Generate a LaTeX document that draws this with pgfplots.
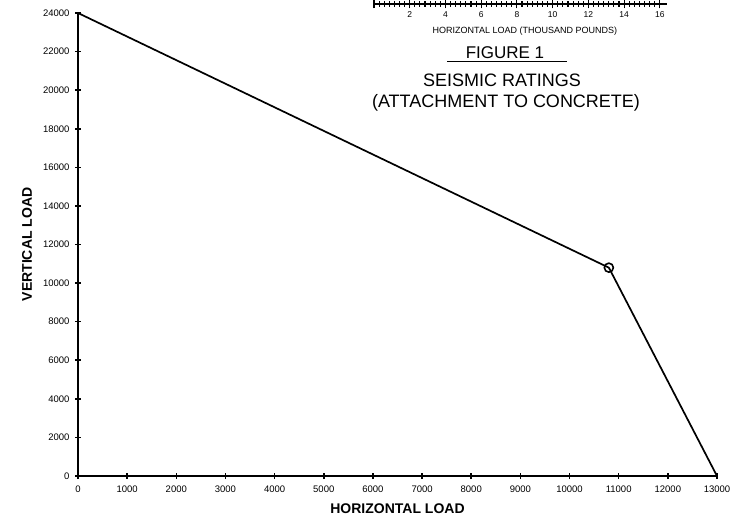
\documentclass[border=0pt]{standalone}
\usepackage{fontspec}
\setmainfont{Liberation Sans}
\usepackage{pgfplots}
\pgfplotsset{compat=1.18}
\begin{document}
\begin{tikzpicture}
\useasboundingbox (0,0) rectangle (734pt,517pt);
% main chart
\begin{axis}[
  at={(78pt,41pt)}, anchor=south west,
  scale only axis, width=639pt, height=463pt,
  xmin=0, xmax=13000, ymin=0, ymax=24000,
  axis lines=left, axis line style={-, line width=1.8pt},
  xtick distance=1000, ytick distance=2000,
  scaled ticks=false,
  tick align=center, major tick length=6pt,
  tick style={line width=1.6pt, black},
  ticklabel style={font=\fontsize{9.5}{10}\selectfont},
  xticklabel style={yshift=-3pt},
  yticklabel style={xshift=-2pt},
  /pgf/number format/assume math mode=true,
  /pgf/number format/1000 sep={},
  xlabel={HORIZONTAL LOAD},
  ylabel={VERTICAL LOAD},
  xlabel style={at={(axis description cs:0.5,-0.0713)}, anchor=center, font=\bfseries\fontsize{14}{16}\selectfont},
  ylabel style={at={(axis description cs:-0.0798,0.5)}, anchor=center, font=\bfseries\fontsize{14}{16}\selectfont},
  clip=false,
]
\addplot[black, line width=1.7pt, mark=o, mark indices={2}, mark size=4.5pt,
  mark options={line width=1.6pt, fill=none}] coordinates {
(0,24000)
(10800,10800)
(13000,0)
};
\end{axis}
% partial inset axis at the top
\begin{axis}[
  at={(374pt,513pt)}, anchor=south west,
  scale only axis, width=293pt, height=20pt,
  xmin=0, xmax=16.4, ymin=0, ymax=1,
  axis x line=bottom, axis y line=none,
  axis line style={-, line width=1.6pt},
  xtick={0,2,4,6,8,10,12,14,16},
  xticklabels={,2,4,6,8,10,12,14,16},
  minor x tick num=6,
  tick align=center, major tick length=9pt, minor tick length=6pt,
  tick style={line width=1.1pt, black},
  ticklabel style={font=\fontsize{8.5}{9}\selectfont},
  /pgf/number format/assume math mode=true,
  xlabel={HORIZONTAL LOAD (THOUSAND POUNDS)},
  xlabel style={at={(axis description cs:0.515,0)}, anchor=center, yshift=-27pt, font=\fontsize{9}{10}\selectfont},
  clip=false,
]
\addplot[draw=none] coordinates {(0,0) (16,0)};
\end{axis}
\node[anchor=base, inner sep=0] at (505pt,458pt) {\fontsize{17}{19}\selectfont FIGURE 1};
\draw[line width=1pt] (447pt,455.3pt) -- (567pt,455.3pt);
\node[anchor=base, inner sep=0] at (502pt,430.3pt) {\fontsize{18}{20}\selectfont SEISMIC RATINGS};
\node[anchor=base, inner sep=0] at (506pt,409pt) {\fontsize{18}{20}\selectfont (ATTACHMENT TO CONCRETE)};
\end{tikzpicture}
\end{document}
